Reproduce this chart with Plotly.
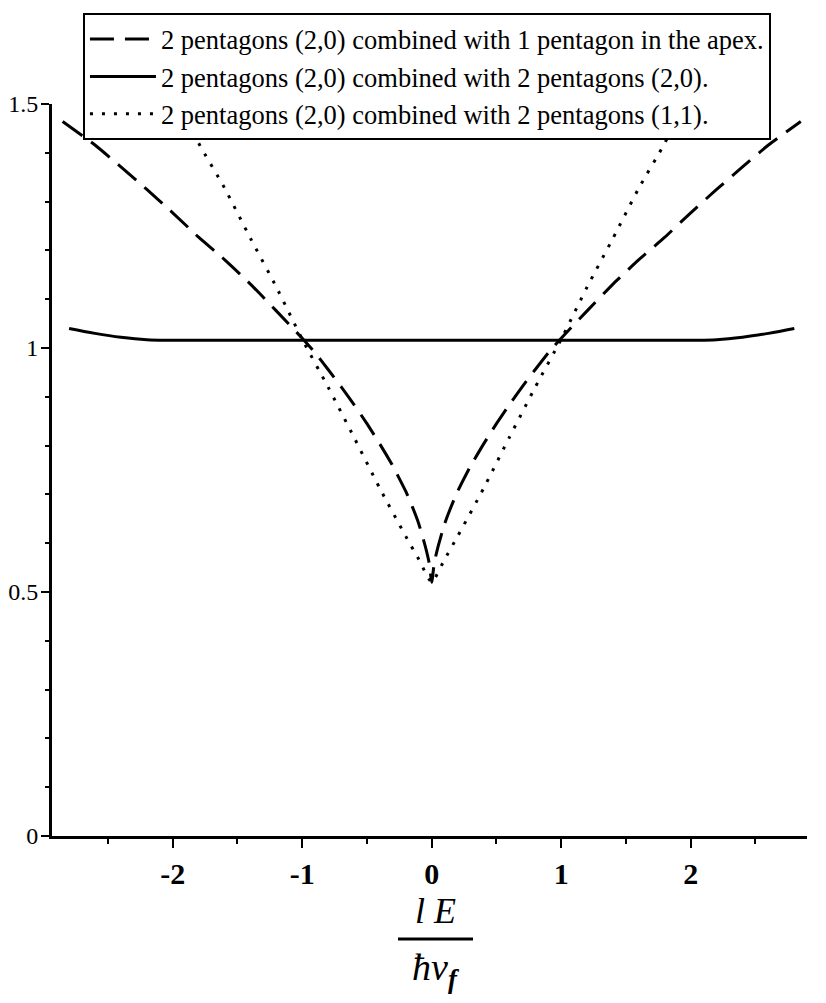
import plotly.graph_objects as go

# ---- data ----
x_dash = [-2.85, -2.6, -2.4, -2.2, -2.0, -1.8, -1.6, -1.4, -1.2, -1.0, -0.9, -0.8, -0.7, -0.6,
          -0.5, -0.4, -0.3, -0.2, -0.15, -0.1, -0.05, -0.02, 0.0,
          0.02, 0.05, 0.1, 0.15, 0.2, 0.3, 0.4, 0.5, 0.6, 0.7, 0.8, 0.9, 1.0, 1.2, 1.4,
          1.6, 1.8, 2.0, 2.2, 2.4, 2.6, 2.85]
y_dash = [1.464, 1.416, 1.371, 1.325, 1.277, 1.227, 1.181, 1.131, 1.076, 1.020, 0.990, 0.956, 0.921, 0.884,
          0.845, 0.803, 0.758, 0.706, 0.675, 0.640, 0.594, 0.560, 0.520,
          0.560, 0.594, 0.640, 0.675, 0.706, 0.758, 0.803, 0.845, 0.884, 0.921, 0.956, 0.990, 1.020, 1.076, 1.131,
          1.181, 1.227, 1.277, 1.325, 1.371, 1.416, 1.464]

x_solid = [-2.8, -2.6, -2.4, -2.2, -2.0, 0.0, 2.0, 2.2, 2.4, 2.6, 2.8]
y_solid = [1.040, 1.030, 1.022, 1.017, 1.016, 1.016, 1.016, 1.017, 1.022, 1.030, 1.040]

x_dot = [-2.0, -1.8, -1.6, -1.4, -1.2, -1.0, -0.8, -0.6, -0.4, -0.2, -0.1, 0.0,
         0.1, 0.2, 0.4, 0.6, 0.8, 1.0, 1.2, 1.4, 1.6, 1.8, 2.0]
y_dot = [1.530, 1.420, 1.328, 1.225, 1.125, 1.018, 0.920, 0.817, 0.712, 0.614, 0.567, 0.520,
         0.567, 0.614, 0.712, 0.817, 0.920, 1.018, 1.125, 1.225, 1.328, 1.420, 1.530]

names = ["2 pentagons (2,0) combined with 1 pentagon in the apex.",
         "2 pentagons (2,0) combined with 2 pentagons (2,0).",
         "2 pentagons (2,0) combined with 2 pentagons (1,1)."]

y_ticks = [0, 0.5, 1, 1.5]
y_tick_text = ["0", "0.5", "1", "1.5"]
x_ticks = [-2, -1, 0, 1, 2]
x_tick_text = ["<b>-2</b>", "<b>-1</b>", "<b>0</b>", "<b>1</b>", "<b>2</b>"]

SERIF = "Liberation Serif, Times New Roman, serif"

# page body has an 8px margin, so the figure is 8px smaller than the window
W, H = 818, 995
L, R, T, B = 44, 19, 96, 167

fig = go.Figure()
fig.add_trace(go.Scatter(x=x_dash, y=y_dash, mode="lines", name=names[0], legendgroup="a",
                         line=dict(color="black", width=3, dash="24px,11px",
                                   shape="spline", smoothing=0.5)))
fig.add_trace(go.Scatter(x=x_solid, y=y_solid, mode="lines", name=names[1], legendgroup="b",
                         line=dict(color="black", width=3, shape="spline")))
fig.add_trace(go.Scatter(x=x_dot, y=y_dot, mode="lines", name=names[2], legendgroup="c",
                         line=dict(color="black", width=3, dash="3px,9px",
                                   shape="spline", smoothing=0.5)))

fig.update_layout(
    width=W, height=H,
    margin=dict(l=L, r=R, t=T, b=B, autoexpand=False),
    paper_bgcolor="white", plot_bgcolor="white",
    font=dict(family=SERIF, color="black"),
    showlegend=True,
    legend=dict(x=0.041, y=1.124, xanchor="left", yanchor="top",
                bgcolor="white", bordercolor="black", borderwidth=2,
                font=dict(family=SERIF, size=26.5, color="black"),
                traceorder="grouped", tracegroupgap=0, itemwidth=66),
    xaxis=dict(range=[-2.932, 2.898], showgrid=False, zeroline=False, automargin=False,
               showline=True, linecolor="black", linewidth=3,
               tickmode="array", tickvals=x_ticks, ticktext=x_tick_text,
               ticks="outside", ticklen=9, tickwidth=2, tickcolor="black",
               tickfont=dict(family=SERIF, size=30, color="black"),
               minor=dict(tickvals=[-2.5, -1.5, -0.5, 0.5, 1.5, 2.5], ticks="outside",
                          ticklen=5, tickwidth=2, tickcolor="black")),
    yaxis=dict(range=[0, 1.5], showgrid=False, zeroline=False, automargin=False,
               showline=True, linecolor="black", linewidth=3,
               tickmode="array", tickvals=y_ticks, ticktext=y_tick_text,
               ticks="outside", ticklen=8, tickwidth=2, tickcolor="black",
               ticklabelstandoff=-2,
               tickfont=dict(family=SERIF, size=24, color="black"),
               minor=dict(dtick=0.1, ticks="outside", ticklen=4, tickwidth=2, tickcolor="black")),
)

# convert reference-screenshot pixel positions to paper coordinates
def px_x(p):
    return (p - 52) / 755
def px_y(p):
    return (836 - p) / 732

# x-axis title as a fraction  lE / ħv_f
fig.add_annotation(x=px_x(435.5), xref="paper", y=px_y(911), yref="paper", yanchor="middle",
                   text="<i>l E</i>", showarrow=False,
                   font=dict(family=SERIF, size=36, color="black"))
fig.add_shape(type="line", xref="paper", yref="paper",
              x0=px_x(398), x1=px_x(473), y0=px_y(939), y1=px_y(939),
              line=dict(color="black", width=3))
fig.add_annotation(x=px_x(435.5), xref="paper", y=px_y(944), yref="paper", yanchor="top",
                   text="<i>ħv<sub><b>f</b></sub></i>", showarrow=False,
                   font=dict(family=SERIF, size=38, color="black"))

fig.write_html("out.html")
